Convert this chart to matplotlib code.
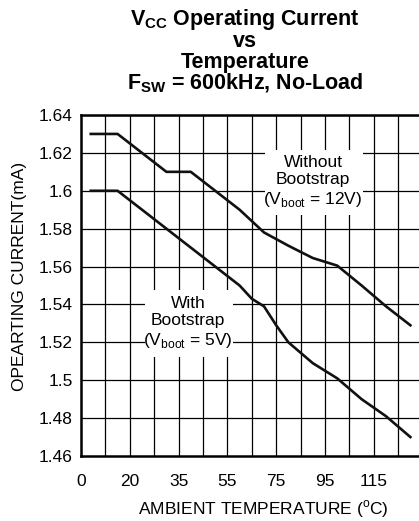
import matplotlib.pyplot as plt
from matplotlib.patches import Rectangle

plt.rcParams['font.family'] = ['Liberation Sans', 'DejaVu Sans']
plt.rcParams['mathtext.fontset'] = 'custom'
plt.rcParams['mathtext.rm'] = 'Liberation Sans'
plt.rcParams['mathtext.bf'] = 'Liberation Sans:bold'

# --- data ---
# x is in grid units of 10 per cell; tick labels are taken as printed
temp_without = [4, 15, 25, 35, 45, 55, 65, 75, 85, 95, 105, 115, 125, 135]
cur_without = [1.630, 1.630, 1.620, 1.610, 1.610, 1.600, 1.590, 1.578, 1.571,
               1.5645, 1.5605, 1.550, 1.539, 1.529]

temp_with = [4, 15, 25, 35, 45, 55, 65, 70, 75, 80, 85, 95, 105, 115, 125, 135]
cur_with = [1.600, 1.600, 1.590, 1.580, 1.570, 1.560, 1.550, 1.543, 1.539,
            1.529, 1.520, 1.509, 1.501, 1.490, 1.481, 1.470]

x_ticks = [0, 20, 40, 60, 80, 100, 120]
x_labels = ['0', '20', '35', '55', '75', '95', '115']
y_ticks = [1.46, 1.48, 1.50, 1.52, 1.54, 1.56, 1.58, 1.60, 1.62, 1.64]
y_labels = ['1.46', '1.48', '1.5', '1.52', '1.54', '1.56', '1.58', '1.6', '1.62', '1.64']

W, H = 419, 521
fs = 12.5
fig = plt.figure(figsize=(W / 100, H / 100), dpi=100)
ax = fig.add_axes([81 / W, 1 - 456 / H, (422.6 - 81) / W, (456 - 115) / H])

ax.set_xlim(0, 140)
ax.set_ylim(1.46, 1.64)

# grid
for gx in range(10, 140, 10):
    ax.axvline(gx, color='black', lw=0.9, zorder=1)
for gy in y_ticks[1:]:
    ax.axhline(gy, color='black', lw=0.9, zorder=1)

ax.plot(temp_without, cur_without, color='#111111', lw=1.9, zorder=4)
ax.plot(temp_with, cur_with, color='#111111', lw=1.9, zorder=4)

# annotation boxes
ax.add_patch(Rectangle((75.4, 1.5872), 40.2, 0.0343, facecolor='white',
                       edgecolor='none', zorder=2))
ax.add_patch(Rectangle((26.2, 1.5123), 36.1, 0.0354, facecolor='white',
                       edgecolor='none', zorder=2))
ax.text(95.1, 1.6046, 'Without\nBootstrap\n(V$_{\\rm boot}$ = 12V)', ha='center',
        va='center', fontsize=fs, linespacing=1.22, zorder=3)
ax.text(43.9, 1.5302, 'With\nBootstrap\n(V$_{\\rm boot}$ = 5V)', ha='center',
        va='center', fontsize=fs, linespacing=1.22, zorder=3)

ax.set_xticks(x_ticks)
ax.set_xticklabels(x_labels, fontsize=fs)
ax.set_yticks(y_ticks)
ax.set_yticklabels(y_labels, fontsize=fs)
ax.tick_params(axis='x', length=0, pad=13)
ax.tick_params(axis='y', length=0, pad=6)

for side in ['left', 'bottom', 'top']:
    ax.spines[side].set_linewidth(1.8)
ax.spines['right'].set_visible(False)

fig.text(263 / W, 1 - 509 / H, 'AMBIENT TEMPERATURE ($^{\\rm o}$C)',
         ha='center', va='center', fontsize=fs)
fig.text(20 / W, 1 - 276 / H, 'OPEARTING CURRENT(mA)', rotation=90,
         ha='center', va='center', fontsize=fs)

fig.text(245 / W, 1 - 51 / H,
         '$\\mathbf{V_{CC}}$ Operating Current\nvs\nTemperature\n'
         '$\\mathbf{F_{SW}}$ = 600kHz, No-Load',
         ha='center', va='center', fontsize=15.5, fontweight='bold',
         linespacing=0.95)

fig.savefig('out.png', dpi=100)
